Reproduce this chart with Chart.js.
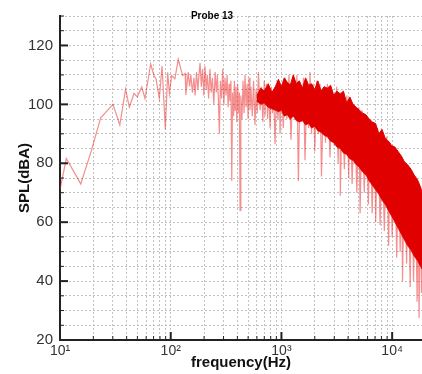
<!DOCTYPE html>
<html>
<head>
<meta charset="utf-8">
<script src="https://cdn.jsdelivr.net/npm/chart.js@4/dist/chart.umd.min.js"></script>
<style>
  body { margin: 0; background: #fff; }
  #wrap { width: 422px; height: 374px; }
</style>
</head>
<body>
<div id="wrap"><canvas id="splChart" width="422" height="374"></canvas></div>
<script>
// Spectrum trace (Hz, dBA)
const traceFreq = [10, 11.4, 15.4, 19.2, 23.3, 30.1, 34.7, 39.1, 42.3, 46.6, 49.9, 54.7, 58.6, 65.9, 70.6, 73.6, 78.9, 83.5, 89.4, 93.9, 97.3,
    102, 109, 117, 128, 135, 137, 144, 148, 152, 157, 162, 166, 171, 176, 180, 184, 189, 194, 199, 204, 209, 214, 220, 226, 232, 238,
    245, 252, 258, 264, 270, 275, 281, 288, 295, 302, 309, 316, 323, 330, 337, 343, 350, 356, 362, 370, 376, 381, 388, 395, 402, 410,
    417, 423, 430, 440, 450, 460, 469, 480, 490, 500, 510, 520, 530, 545, 560, 577, 590, 605, 620, 641, 660, 680, 700, 711, 730, 750,
    770, 789, 810, 830, 850, 875, 900, 930, 960, 971, 1000, 1040, 1080, 1120, 1170, 1220, 1270, 1330, 1380, 1423, 1470, 1530, 1580,
    1633, 1700, 1760, 1812, 1870, 1940, 2000, 2080, 2150, 2231, 2300, 2400, 2500, 2600, 2748, 2850, 3000, 3150, 3250, 3384, 3400,
    3550, 3700, 3900, 4050, 4168, 4350, 4550, 4800, 5000, 5133, 5350, 5600, 5850, 6100, 6322, 6600, 6900, 7100, 7400, 7786, 8100,
    8500, 8900, 9300, 9590, 10000, 10500, 11000, 11400, 11810, 12200, 12400, 12900, 13500, 14000, 14546, 15000, 15600, 16200, 16800,
    17200, 17500, 18000, 18400, 18700];
const traceSpl = [71, 81.6, 73, 84.3, 95.4, 100, 93, 105.2, 99, 103.7, 102.5, 105.9, 102, 113.7, 109.8, 108.7, 102, 113, 91.5, 110.9, 103.7,
    109.8, 108.7, 115.3, 109.8, 110.5, 103.2, 111, 106, 110, 104, 109, 103, 111, 105, 110, 114, 106, 112, 103, 113, 105, 110, 102, 112, 104, 109,
    100, 111, 104, 110, 101, 90, 108, 102, 112, 100, 109, 103, 110, 99, 107, 101, 108, 74, 104, 96, 108, 98, 106, 94, 107, 97,
    104, 64, 103, 95, 108, 97, 110, 99, 107, 95, 109, 98, 106, 96, 108, 93, 105, 97, 111, 98, 106, 94, 108, 96, 107, 95,
    105, 92, 106, 97, 104, 86.5, 104, 95, 106, 90, 106, 92, 109, 95, 110, 88, 108, 96, 110, 74, 107, 94, 109,
    81, 108, 92, 111, 90, 107, 84, 108, 90, 107, 75.5, 106, 87, 107, 82, 105, 86, 106, 80, 104, 69,
    104, 78, 103, 75, 102, 73, 100, 70, 99, 63, 98, 70, 96, 66, 95, 63, 93, 60, 92, 59, 90,
    57, 89, 52, 87, 55, 85, 48, 84, 50, 82, 40, 80, 46, 78, 38, 77, 40, 74, 33,
    72, 27.5, 71, 36, 69];

// Dense high-frequency band: ragged upper and lower edges of the solid red area
const bandFreq = [600, 650, 700, 760, 820, 880, 940, 1000, 1060, 1130, 1200, 1280, 1360, 1450, 1550, 1650, 1760, 1870, 2000, 2130,
    2280, 2430, 2600, 2780, 2970, 3170, 3400, 3630, 3880, 4150, 4430, 4740, 5070, 5420, 5800, 6200, 6630, 7090, 7580, 8100,
    8660, 9260, 9900, 10600, 11300, 12100, 12900, 13800, 14800, 15800, 16900, 18000, 18700];
const bandTop = [103, 105.5, 104.5, 107, 104, 106, 108.5, 106, 109, 107.5, 106.5, 110, 107, 108, 105.5, 109, 106.5, 107, 105, 108,
    104.5, 106, 105.5, 106.5, 103, 104.5, 103.5, 104.5, 100.5, 102.5, 100, 99, 98, 97, 96.5, 95, 94, 93.5, 90, 91.5,
    88.5, 87.5, 86, 85.5, 84, 82.5, 80.5, 79.5, 78, 76, 74.5, 72, 70];
const bandBottom = [101, 100, 100.5, 99, 98.5, 98, 97.5, 98, 96, 96.5, 95, 96, 94.5, 94, 94.5, 93, 93.5, 92, 92.5, 91,
    90.5, 89.5, 89, 87.5, 87, 85.5, 85, 83.5, 83, 81.5, 81, 79.5, 78.5, 77, 76, 74, 72.5, 71, 69.5, 67.5,
    66, 64, 62, 60, 58, 56, 54, 52, 50.5, 48.5, 47, 45, 44];

// Tick values
const xDecades = [10, 100, 1000, 10000];
const xDecadeLabels = ['10\u00B9', '10\u00B2', '10\u00B3', '10\u2074'];
const yMajor = [20, 40, 60, 80, 100, 120];

function toPoints(xs, ys) {
    return xs.map((x, i) => ({ x: x, y: ys[i] }));
}

// 1..9 per decade
function logTicks(min, max) {
    const out = [];
    for (let d = 10; d <= max; d *= 10) {
        for (let k = 1; k <= 9; k++) {
            const v = d * k;
            if (v >= min && v <= max) out.push(v);
        }
    }
    return out;
}

const X_MIN = 10;
const X_MAX = 18600;

// Inward tick marks + title text
const decorPlugin = {
    id: 'decor',
    afterDraw(chart) {
        const ctx = chart.ctx;
        const xs = chart.scales.x;
        const ys = chart.scales.y;
        const area = chart.chartArea;
        ctx.save();
        ctx.strokeStyle = '#222';
        for (let v = 20; v <= 130; v += 5) {
            const py = ys.getPixelForValue(v);
            const major = yMajor.includes(v);
            ctx.lineWidth = major ? 2 : 1;
            ctx.beginPath();
            ctx.moveTo(area.left, py);
            ctx.lineTo(area.left + (major ? 8 : 4), py);
            ctx.stroke();
        }
        logTicks(X_MIN, X_MAX).forEach(v => {
            const px = xs.getPixelForValue(v);
            const major = xDecades.includes(v);
            ctx.lineWidth = major ? 2 : 1;
            ctx.beginPath();
            ctx.moveTo(px, area.bottom);
            ctx.lineTo(px, area.bottom - (major ? 8 : 4));
            ctx.stroke();
        });
        ctx.fillStyle = '#000';
        ctx.font = 'bold 10px Arial, "Liberation Sans", sans-serif';
        ctx.textAlign = 'center';
        ctx.textBaseline = 'middle';
        ctx.fillText('Probe 13', 212, 16.5);
        ctx.restore();
    }
};

const gridStyle = {
    color: '#c2c2c2',
    lineWidth: 1,
    drawTicks: false
};

new Chart(document.getElementById('splChart'), {
    type: 'line',
    data: {
        datasets: [{
            label: 'band top',
            data: toPoints(bandFreq, bandTop),
            borderColor: 'rgb(224,0,0)',
            backgroundColor: 'rgb(224,0,0)',
            borderWidth: 1,
            pointRadius: 0,
            fill: '+1',
            order: 1
        }, {
            label: 'band bottom',
            data: toPoints(bandFreq, bandBottom),
            borderColor: 'rgba(224,0,0,0.8)',
            borderWidth: 1,
            pointRadius: 0,
            fill: false,
            order: 1
        }, {
            label: 'SPL',
            data: toPoints(traceFreq, traceSpl),
            borderColor: 'rgba(236,30,30,0.5)',
            borderWidth: 1.2,
            pointRadius: 0,
            fill: false,
            order: 2
        }]
    },
    options: {
        responsive: false,
        animation: false,
        layout: { padding: { top: 10, right: 0, left: 0, bottom: 0 } },
        plugins: {
            legend: { display: false },
            tooltip: { enabled: false }
        },
        elements: { line: { tension: 0 } },
        scales: {
            x: {
                type: 'logarithmic',
                min: X_MIN,
                max: X_MAX,
                afterBuildTicks: scale => {
                    scale.ticks = logTicks(X_MIN, X_MAX).map(v => ({ value: v }));
                },
                afterFit: scale => { scale.height = 34; },
                grid: Object.assign({}, gridStyle),
                border: { display: true, color: '#222', width: 2, dash: [2, 2] },
                ticks: {
                    autoSkip: false,
                    maxRotation: 0,
                    padding: 3,
                    color: '#333',
                    font: { family: '"Liberation Sans Narrow", Arial, sans-serif', size: 14 },
                    callback: value => {
                        const i = xDecades.indexOf(value);
                        return i >= 0 ? xDecadeLabels[i] : '';
                    }
                },
                title: {
                    display: true,
                    text: 'frequency(Hz)',
                    color: '#111',
                    font: { family: 'Arial, "Liberation Sans", sans-serif', size: 15, weight: 'bold' },
                    padding: { top: 0, bottom: 2 }
                }
            },
            y: {
                min: 20,
                max: 130,
                afterBuildTicks: scale => {
                    const t = [];
                    for (let v = 20; v <= 130; v += 5) t.push({ value: v });
                    scale.ticks = t;
                },
                afterFit: scale => { scale.width = 60; },
                grid: Object.assign({}, gridStyle),
                border: { display: true, color: '#222', width: 2, dash: [2, 2] },
                ticks: {
                    autoSkip: false,
                    padding: 7,
                    color: '#333',
                    font: { family: '"Liberation Sans Narrow", Arial, sans-serif', size: 15 },
                    callback: value => (yMajor.includes(value) ? String(value) : '')
                },
                title: {
                    display: true,
                    text: 'SPL(dBA)',
                    color: '#111',
                    font: { family: 'Arial, "Liberation Sans", sans-serif', size: 15, weight: 'bold' },
                    padding: { top: 16, bottom: 0 }
                }
            }
        }
    },
    plugins: [decorPlugin]
});
</script>
</body>
</html>
